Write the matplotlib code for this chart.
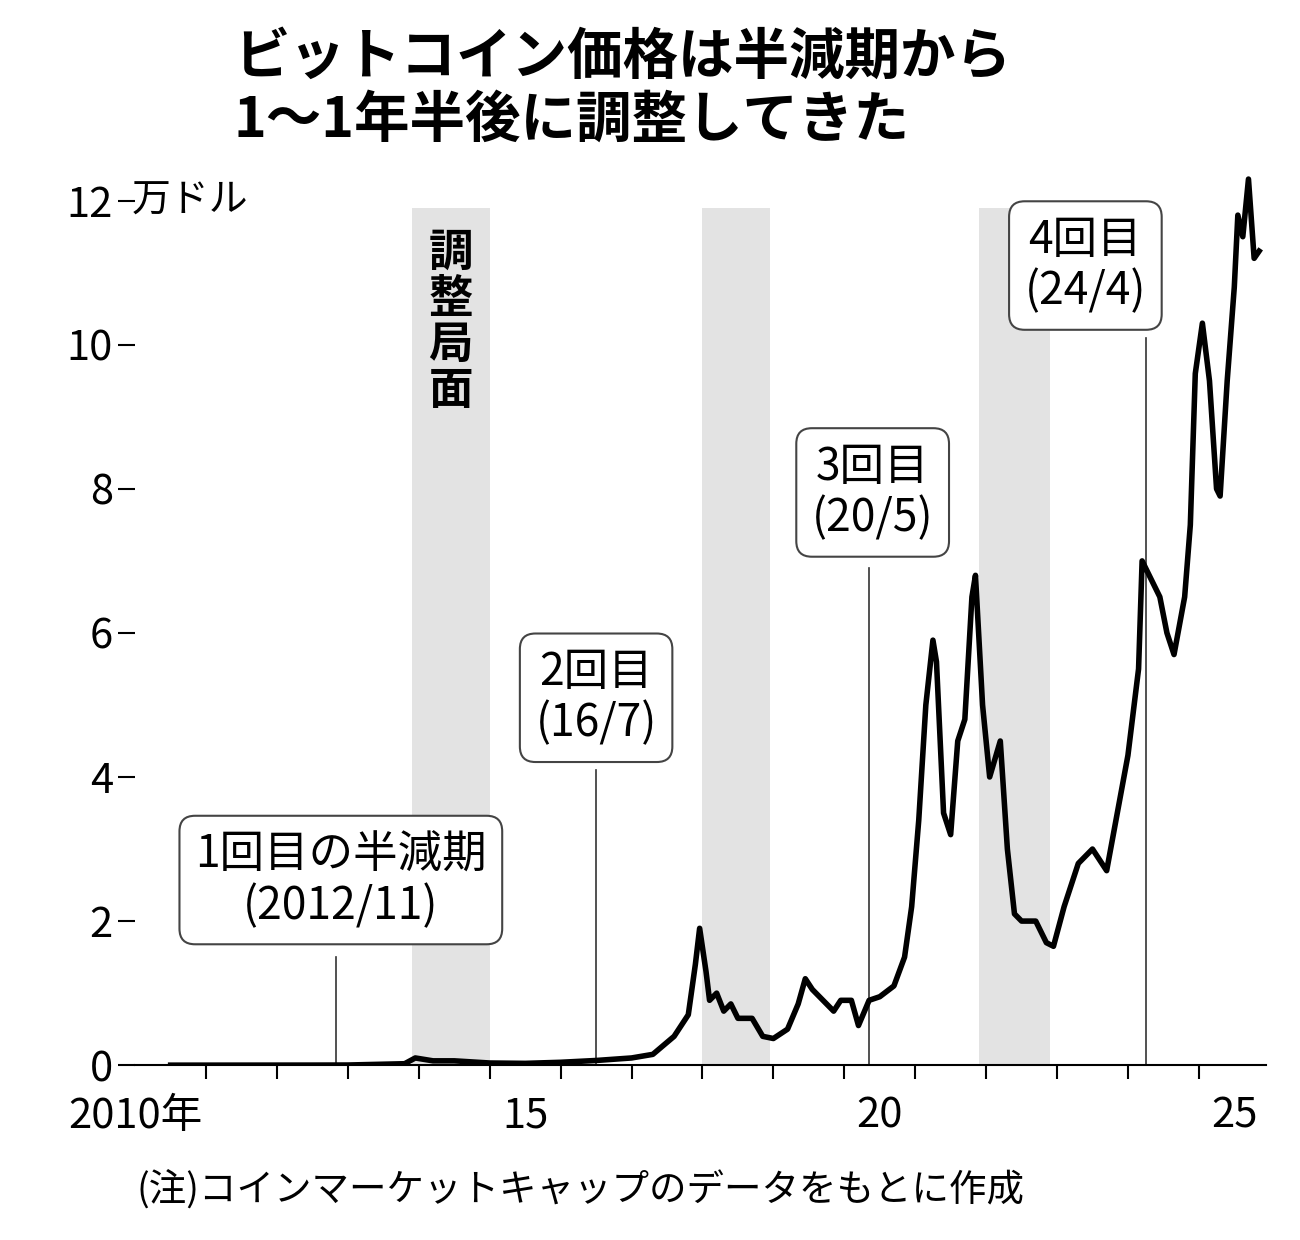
import matplotlib
matplotlib.use("Agg")
import matplotlib.pyplot as plt
from matplotlib.ticker import FixedLocator, NullFormatter

plt.rcParams['font.family'] = ['Noto Sans CJK JP', 'DejaVu Sans']

title = "ビットコイン価格は半減期から\n1〜1年半後に調整してきた"
note = "(注)コインマーケットキャップのデータをもとに作成"
unit = "万ドル"
yticks = [0, 2, 4, 6, 8, 10, 12]
xlabel_pos = [2010.0, 2015.5, 2020.5, 2025.5]
xlabels = ["2010年", "15", "20", "25"]

# price (10k USD) by decimal year
years = [2010.5, 2011.5, 2012.5, 2013.0, 2013.8, 2013.95, 2014.2, 2014.5, 2015.0, 2015.5, 2016.0, 2016.5,
         2017.0, 2017.3, 2017.6, 2017.8, 2017.9, 2017.96, 2018.05, 2018.1, 2018.2, 2018.3, 2018.4, 2018.5,
         2018.7, 2018.85, 2019.0, 2019.2, 2019.35, 2019.45, 2019.55, 2019.7, 2019.85, 2019.95, 2020.1,
         2020.2, 2020.35, 2020.5, 2020.7, 2020.85, 2020.95, 2021.05, 2021.15, 2021.25, 2021.3, 2021.4,
         2021.5, 2021.6, 2021.7, 2021.8, 2021.85, 2021.95, 2022.05, 2022.2, 2022.3, 2022.4, 2022.5,
         2022.7, 2022.85, 2022.95, 2023.1, 2023.3, 2023.5, 2023.7, 2023.85, 2024.0, 2024.15, 2024.2,
         2024.3, 2024.45, 2024.55, 2024.65, 2024.8, 2024.88, 2024.95, 2025.05, 2025.15, 2025.25,
         2025.3, 2025.4, 2025.5, 2025.55, 2025.62, 2025.7, 2025.78, 2025.85]
prices = [0.0, 0.0005, 0.001, 0.002, 0.02, 0.1, 0.06, 0.06, 0.03, 0.025, 0.04, 0.065,
          0.1, 0.15, 0.4, 0.7, 1.4, 1.9, 1.3, 0.9, 1.0, 0.75, 0.85, 0.65,
          0.65, 0.4, 0.37, 0.5, 0.85, 1.2, 1.05, 0.9, 0.75, 0.9, 0.9,
          0.55, 0.9, 0.95, 1.1, 1.5, 2.2, 3.4, 5.0, 5.9, 5.6, 3.5,
          3.2, 4.5, 4.8, 6.5, 6.8, 5.0, 4.0, 4.5, 3.0, 2.1, 2.0,
          2.0, 1.7, 1.65, 2.2, 2.8, 3.0, 2.7, 3.5, 4.3, 5.5, 7.0,
          6.8, 6.5, 6.0, 5.7, 6.5, 7.5, 9.6, 10.3, 9.5, 8.0,
          7.9, 9.5, 10.8, 11.8, 11.5, 12.3, 11.2, 11.3]

shades = [(2013.9, 2015.0), (2018.0, 2018.95), (2021.9, 2022.9)]
halvings = [2012.83, 2016.5, 2020.35, 2024.25]
h_text = [("1回目の半減期", "(2012/11)"), ("2回目", "(16/7)"), ("3回目", "(20/5)"), ("4回目", "(24/4)")]
box_center = [(2012.9, 2.57), (2016.5, 5.1), (2020.4, 7.95), (2023.4, 11.1)]
line_top = [1.5, 4.1, 6.9, 10.1]

fig = plt.figure(figsize=(13, 12.4), dpi=100)
ax = fig.add_axes([0.104, 0.141, 0.87, 0.732])
ax.set_xlim(2010.0, 2025.95)
ax.set_ylim(0, 12.6)
for a, b in shades:
    ax.axvspan(a, b, ymax=11.9 / 12.6, color='#e3e3e3', lw=0, zorder=0)
for h, t in zip(halvings, line_top):
    ax.plot([h, h], [0, t], color='#333', lw=1.2, zorder=1)
ax.plot(years, prices, color='black', lw=4, zorder=3, solid_joinstyle='round')
for (l1, l2), (cx, cy) in zip(h_text, box_center):
    ax.text(cx, cy, l1 + "\n" + l2, ha='center', va='center', fontsize=32, linespacing=1.15,
            zorder=5, bbox=dict(boxstyle='round,pad=0.35', fc='white', ec='#444', lw=1.5))
ax.text(2014.45, 11.6, "調\n整\n局\n面", ha='center', va='top', fontsize=32, linespacing=1.0, fontweight='bold')
ax.text(2009.95, 12.0, unit, ha='left', va='center', fontsize=28)

for s in ['top', 'right']:
    ax.spines[s].set_visible(False)
ax.spines['left'].set_visible(False)
ax.spines['bottom'].set_linewidth(1.5)
ax.set_yticks(yticks)
ax.set_yticklabels([str(v) for v in yticks], fontsize=30)
ax.tick_params(axis='y', length=12, width=1.5, pad=4)
ax.xaxis.set_major_locator(FixedLocator(list(range(2011, 2026))))
ax.xaxis.set_major_formatter(NullFormatter())
ax.tick_params(axis='x', which='major', length=10, width=1.5, direction='out')
ax.set_xticks(xlabel_pos, minor=True)
ax.set_xticklabels(xlabels, minor=True, fontsize=30)
ax.tick_params(axis='x', which='minor', length=0, pad=22)

fig.text(0.18, 0.928, title, ha='left', va='center', fontsize=40, fontweight='bold', linespacing=1.15)
fig.text(0.105, 0.04, note, ha='left', va='center', fontsize=27)
fig.savefig("out.png")
